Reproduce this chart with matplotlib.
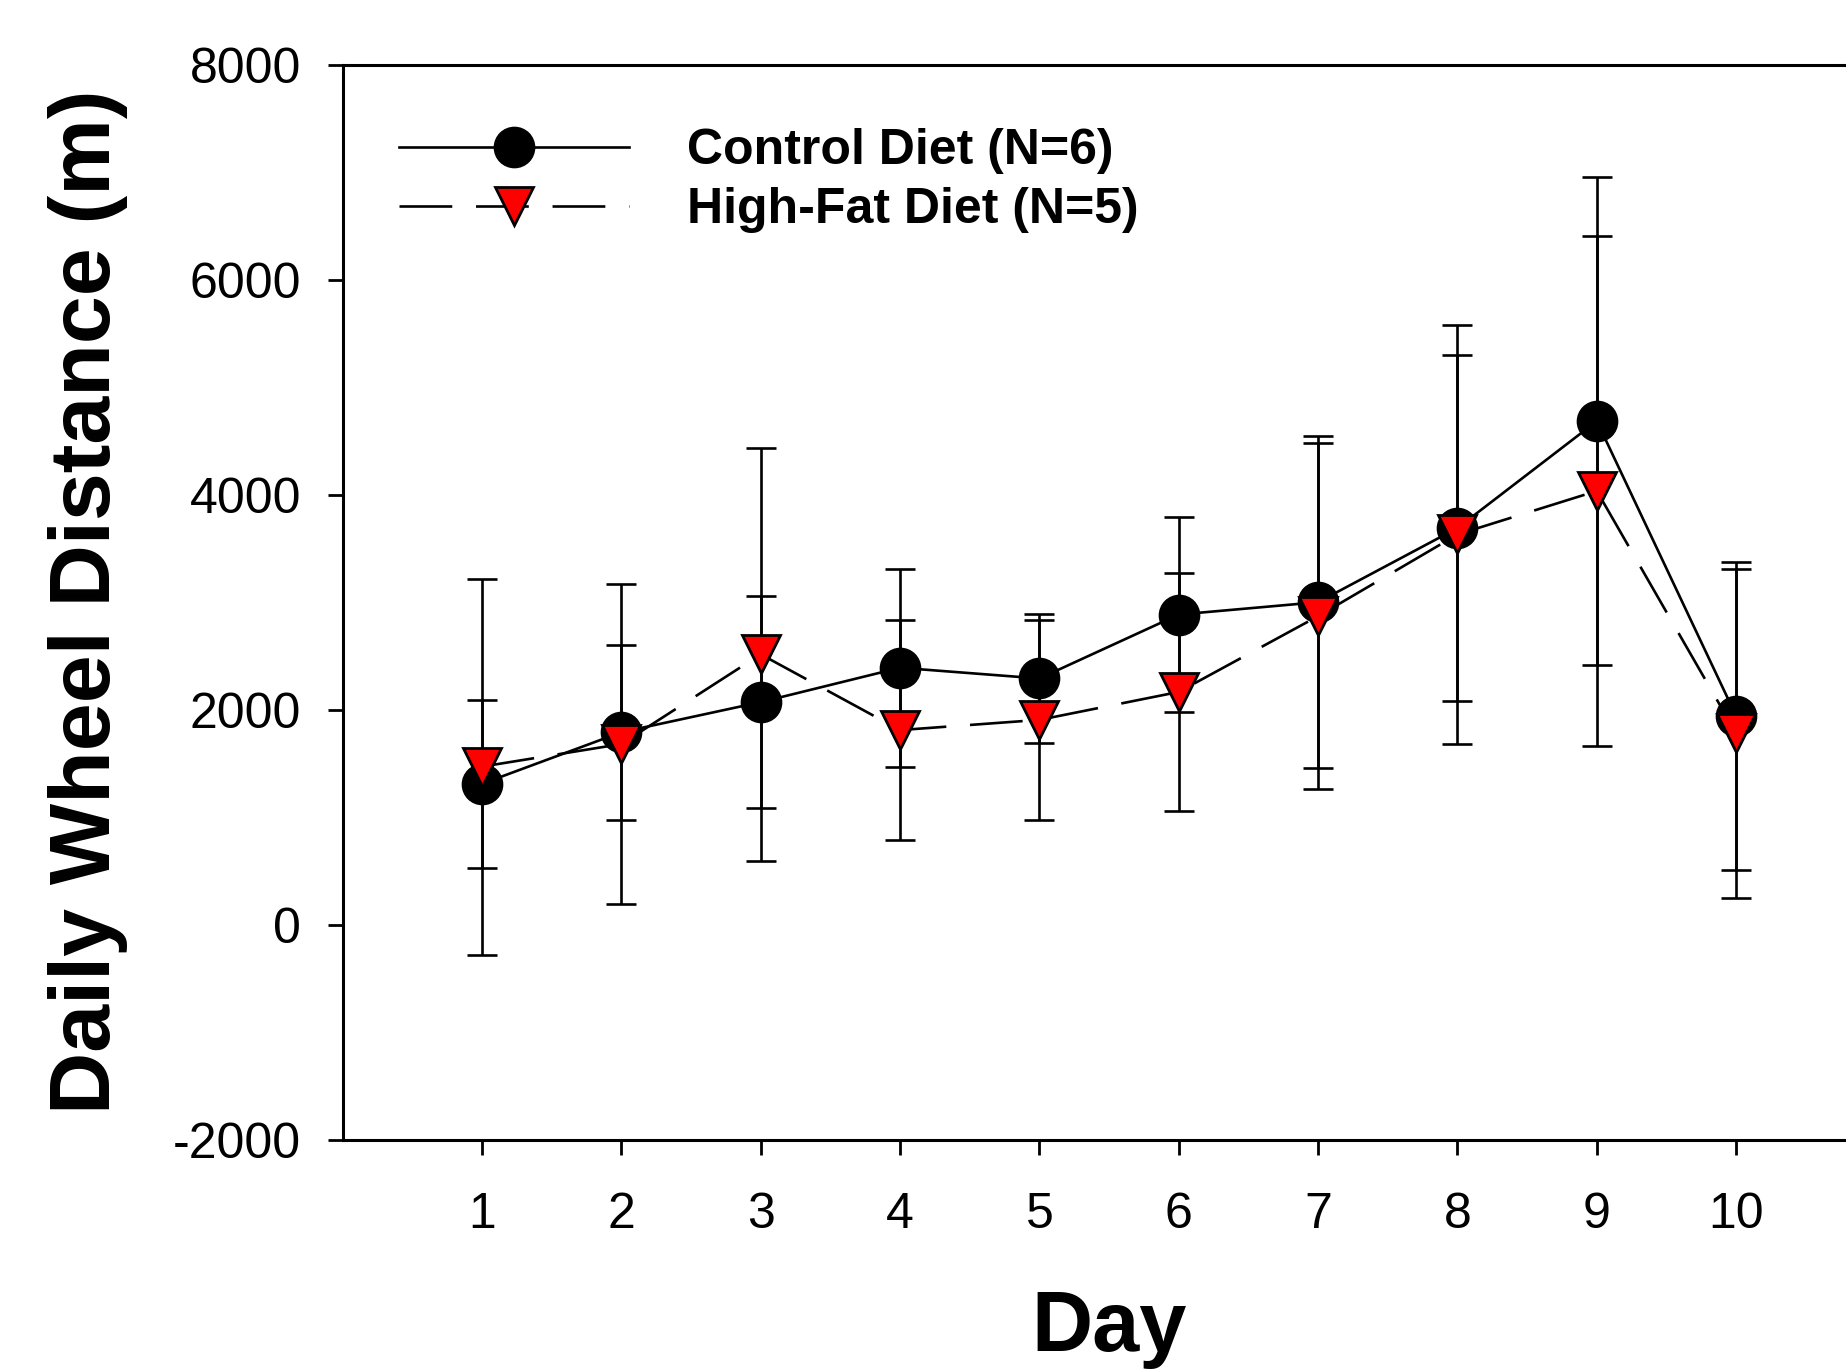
import matplotlib
matplotlib.use("Agg")
import matplotlib.pyplot as plt

# daily wheel distance (m), mean and error per day
dias = [1, 2, 3, 4, 5, 6, 7, 8, 9, 10]
control = [1310, 1790, 2070, 2390, 2290, 2885, 3000, 3690, 4685, 1940]
control_err = [780, 815, 985, 920, 600, 905, 1545, 1610, 2270, 1430]
grasa = [1470, 1680, 2515, 1810, 1905, 2165, 2870, 3630, 4035, 1780]
grasa_err = [1750, 1485, 1920, 1025, 930, 1105, 1610, 1945, 2370, 1530]

etiquetas = ["Control Diet (N=6)", "High-Fat Diet (N=5)"]
yticks = [-2000, 0, 2000, 4000, 6000, 8000]

plt.rcParams["font.family"] = ["Liberation Sans", "DejaVu Sans"]
plt.rcParams["axes.unicode_minus"] = False

fig = plt.figure(figsize=(18.46, 13.70), dpi=100)
ax = fig.add_axes([0.1856, 0.1682, 0.8304, 0.7845])

lw = 1.9
# barras de error primero, debajo de los marcadores
ax.errorbar(dias, control, yerr=control_err, fmt="none", ecolor="black",
            elinewidth=lw, capsize=11, capthick=lw, zorder=2)
ax.errorbar(dias, grasa, yerr=grasa_err, fmt="none", ecolor="black",
            elinewidth=lw, capsize=11, capthick=lw, zorder=2)

l1, = ax.plot(dias, control, color="black", linewidth=lw, marker="o",
              markersize=29, markerfacecolor="black", markeredgecolor="black",
              zorder=3)
l2, = ax.plot(dias, grasa, color="black", linewidth=lw,
              linestyle=(0, (20, 9)), marker="v", markersize=28,
              markerfacecolor="red", markeredgecolor="black",
              markeredgewidth=2, zorder=4)

ax.set_xlim(0, 11)
ax.set_ylim(-2000, 8000)
ax.set_xticks(dias)
ax.set_yticks(yticks)
ax.tick_params(axis="both", direction="out", length=11, width=2,
               labelsize=36, pad=19)
ax.tick_params(axis="x", pad=27)
for s in ax.spines.values():
    s.set_linewidth(2.2)

ax.set_xlabel("Day", fontsize=61, fontweight="bold")
ax.set_ylabel("Daily Wheel Distance (m)", fontsize=62, fontweight="bold")
ax.xaxis.set_label_coords(0.5, -0.176)
ax.xaxis.label.set_verticalalignment("center")
ax.yaxis.set_label_coords(-0.166, 0.5)
ax.yaxis.label.set_verticalalignment("center")

ax.legend([l1, l2], etiquetas, loc="upper left", bbox_to_anchor=(0.037, 0.941),
          frameon=False, prop={"weight": "bold", "size": 36},
          handlelength=4.6, handletextpad=1.15, labelspacing=0.26,
          borderpad=0, borderaxespad=0, numpoints=1)

fig.savefig("out.png", dpi=100)
